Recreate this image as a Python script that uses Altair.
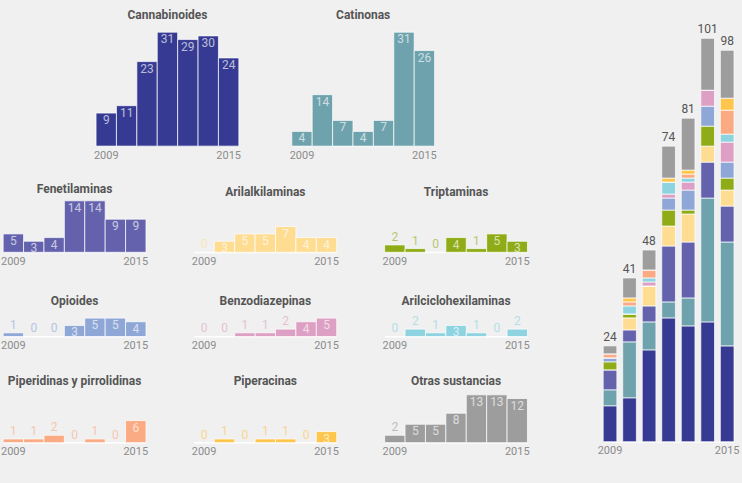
import altair as alt
import pandas as pd

years = [2009, 2010, 2011, 2012, 2013, 2014, 2015]
year_ticks = [2009, 2015]

categories = ["Cannabinoides", "Catinonas", "Fenetilaminas", "Arilalkilaminas",
              "Triptaminas", "Opioides", "Benzodiazepinas", "Arilciclohexilaminas",
              "Piperidinas y pirrolidinas", "Piperacinas", "Otras sustancias"]
cannabinoides = [9, 11, 23, 31, 29, 30, 24]
catinonas = [4, 14, 7, 4, 7, 31, 26]
fenetilaminas = [5, 3, 4, 14, 14, 9, 9]
arilalkilaminas = [0, 3, 5, 5, 7, 4, 4]
triptaminas = [2, 1, 0, 4, 1, 5, 3]
opioides = [1, 0, 0, 3, 5, 5, 4]
benzodiazepinas = [0, 0, 1, 1, 2, 4, 5]
arilciclohexilaminas = [0, 2, 1, 3, 1, 0, 2]
piperidinas = [1, 1, 2, 0, 1, 0, 6]
piperacinas = [0, 1, 0, 1, 1, 0, 3]
otras = [2, 5, 5, 8, 13, 13, 12]
series = [cannabinoides, catinonas, fenetilaminas, arilalkilaminas, triptaminas,
          opioides, benzodiazepinas, arilciclohexilaminas, piperidinas, piperacinas, otras]
colors = ["#363a92", "#6ea2ad", "#6462ad", "#fedd93", "#8fac18", "#8fa7d6",
          "#dd9fc4", "#8ed3e0", "#fbab84", "#fec64c", "#9d9d9d"]

FONT = "Roboto"
K = 3.68       # px per unit, small multiples
K_STACK = 4.0  # px per unit, stacked chart
PANEL_W = 143


def xaxis(min_ext=0):
    return alt.Axis(values=year_ticks, labelAngle=0, ticks=False, domain=True,
                    domainColor="white", domainWidth=1, labelPadding=3,
                    labelFontSize=11, labelColor="#8c8c8c", labelFont=FONT,
                    title=None, grid=False, minExtent=min_ext)


def panel(idx, h, toff, min_ext):
    name, vals, color = categories[idx], series[idx], colors[idx]
    df = pd.DataFrame({"year": years, "value": vals})
    x = alt.X("year:O", scale=alt.Scale(paddingInner=0, paddingOuter=0), axis=xaxis(min_ext))
    y = alt.Y("value:Q", scale=alt.Scale(domain=[0, h / K], nice=False, zero=True), axis=None)
    base = alt.Chart(df).encode(x=x, y=y)
    bars = base.mark_bar(color=color, stroke="white", strokeWidth=1, strokeOpacity=0.7)
    inside = base.transform_filter("datum.value >= 3").mark_text(
        baseline="top", dy=2, color="white", opacity=0.65, fontSize=12, font=FONT
    ).encode(text="value:Q")
    above = base.transform_filter("datum.value < 3").mark_text(
        baseline="bottom", dy=-1, color=color, opacity=0.6, fontSize=12, font=FONT
    ).encode(text="value:Q")
    return alt.layer(bars, inside, above).properties(
        width=PANEL_W, height=h,
        title=alt.TitleParams(name, offset=toff, fontSize=12, font=FONT,
                              fontWeight="bold", color="#555555"))


# (height, title offset, axis min extent) per row
R1 = (120, 4, 20)
R2 = (49, 4, 25.7)
R3 = (25, 4, 21.7)
R4 = (51, 4, 20)

row1 = alt.hconcat(panel(0, *R1), panel(1, *R1), spacing=53, bounds="flush")
row2 = alt.hconcat(panel(2, *R2), panel(3, *R2), panel(4, *R2), spacing=48, bounds="flush")
row3 = alt.hconcat(panel(5, *R3), panel(6, *R3), panel(7, *R3), spacing=48, bounds="flush")
row4 = alt.hconcat(panel(8, *R4), panel(9, *R4), panel(10, *R4), spacing=48, bounds="flush")
left = alt.vconcat(row1, row2, row3, row4, spacing=16.3, center=True)

rows = []
for ci, (cat, vals) in enumerate(zip(categories, series)):
    for y_, v in zip(years, vals):
        rows.append({"year": y_, "category": cat, "value": v, "order": ci})
long_df = pd.DataFrame(rows)

STACK_H = 416
stack_x = alt.X("year:O", scale=alt.Scale(paddingInner=0.3, paddingOuter=0), axis=xaxis())
stack_bars = alt.Chart(long_df).mark_bar(stroke="white", strokeWidth=0.7).encode(
    x=stack_x,
    y=alt.Y("sum(value):Q", scale=alt.Scale(domain=[0, STACK_H / K_STACK], nice=False),
            axis=None, stack="zero"),
    color=alt.Color("category:N", scale=alt.Scale(domain=categories, range=colors), legend=None),
    order=alt.Order("order:Q", sort="ascending"),
)
totals = alt.Chart(long_df).transform_aggregate(
    total="sum(value)", groupby=["year"]
).mark_text(baseline="bottom", dy=-2, fontSize=12, color="#555555", font=FONT).encode(
    x=stack_x,
    y=alt.Y("total:Q", scale=alt.Scale(domain=[0, STACK_H / K_STACK], nice=False), axis=None),
    text="total:Q",
)
right = alt.layer(stack_bars, totals).properties(width=131, height=STACK_H)

chart = alt.hconcat(left, right, spacing=67).properties(
    background="#f0f0f0",
    padding={"left": 0, "top": 9, "right": 2, "bottom": 20},
).configure_view(strokeWidth=0)

chart.save("out.html", embed_options={"renderer": "svg", "actions": False})
